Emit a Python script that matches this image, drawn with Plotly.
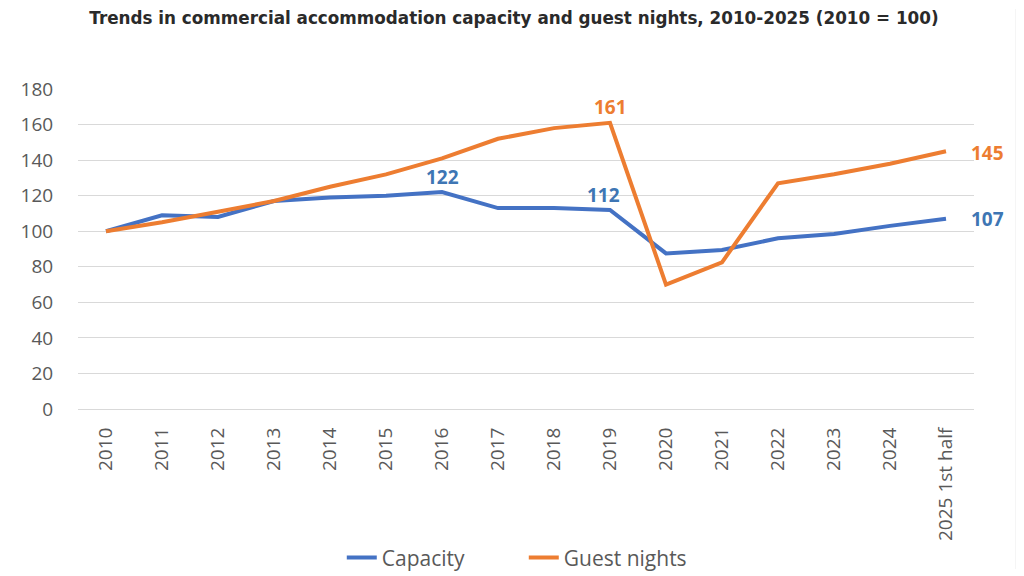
import plotly.graph_objects as go

# categories and index values (2010 = 100)
years = ["2010", "2011", "2012", "2013", "2014", "2015", "2016", "2017",
         "2018", "2019", "2020", "2021", "2022", "2023", "2024", "2025 1st half"]
capacity = [100, 109, 108, 117, 119, 120, 122, 113, 113, 112, 87.5, 89.5, 96, 98.5, 103, 107]
guest_nights = [100, 105, 111, 117, 125, 132, 141, 152, 158, 161, 70, 82.5, 127, 132, 138, 145]

blue = "#4472C4"
orange = "#ED7D31"
label_blue = "#3E76B4"
tick_font = dict(family="Open Sans, Noto Sans, sans-serif", size=19, color="#595959")

fig = go.Figure()
fig.add_trace(go.Scatter(x=years, y=capacity, mode="lines", name="Capacity",
                         line=dict(color=blue, width=4)))
fig.add_trace(go.Scatter(x=years, y=guest_nights, mode="lines", name="Guest nights",
                         line=dict(color=orange, width=4)))

# data labels: (series, index, xshift, yshift, colour)
# x given as category index - numeric-looking strings would be read as positions
labels = [
    (capacity, 6, 0, 15, label_blue),
    (capacity, 9, -7, 15, label_blue),
    (guest_nights, 9, 0, 16, orange),
    (guest_nights, 15, 41, -2, orange),
    (capacity, 15, 41, 0, label_blue),
]
for series, i, dx, dy, col in labels:
    fig.add_annotation(x=i, y=series[i], text="<b>%d</b>" % round(series[i]),
                       showarrow=False, xshift=dx, yshift=dy,
                       font=dict(family="Open Sans, sans-serif", size=19, color=col))

# faint frame edge seen on the right of the original image
fig.add_shape(type="line", xref="paper", yref="paper", x0=1.047, x1=1.047, y0=-0.5, y1=1.25,
              line=dict(color="#e6e6e6", width=1))

# page body has an 8px margin, so the figure is 8px smaller each way
fig.update_layout(
    width=1016, height=568,
    margin=dict(l=70, r=50, t=81, b=167),
    paper_bgcolor="white", plot_bgcolor="white",
    title=dict(text="<b>Trends in commercial accommodation capacity and guest nights, 2010-2025 (2010 = 100)</b>",
               x=0.498, xanchor="center", y=0.982, yanchor="middle",
               font=dict(family="DejaVu Sans, sans-serif", size=16.8, color="#2a2a2a")),
    xaxis=dict(type="category", range=[-0.5, 15.5], tickangle=-90, tickfont=tick_font,
               showgrid=False, showline=True, linecolor="#d9d9d9", ticks="outside",
               tickcolor="white", ticklen=10, automargin=False),
    yaxis=dict(range=[0, 180], dtick=20, tickfont=tick_font, gridcolor="#d9d9d9",
               gridwidth=1, zeroline=False, showline=False, ticks="outside",
               tickcolor="white", ticklen=20, automargin=False),
    legend=dict(orientation="h", x=0.2944, xanchor="left", xref="paper",
                y=0.032, yanchor="middle", yref="container",
                entrywidth=137, entrywidthmode="pixels",
                font=dict(family="Open Sans, sans-serif", size=21, color="#595959"),
                tracegroupgap=0),
    showlegend=True,
)

fig.write_html("out.html")
